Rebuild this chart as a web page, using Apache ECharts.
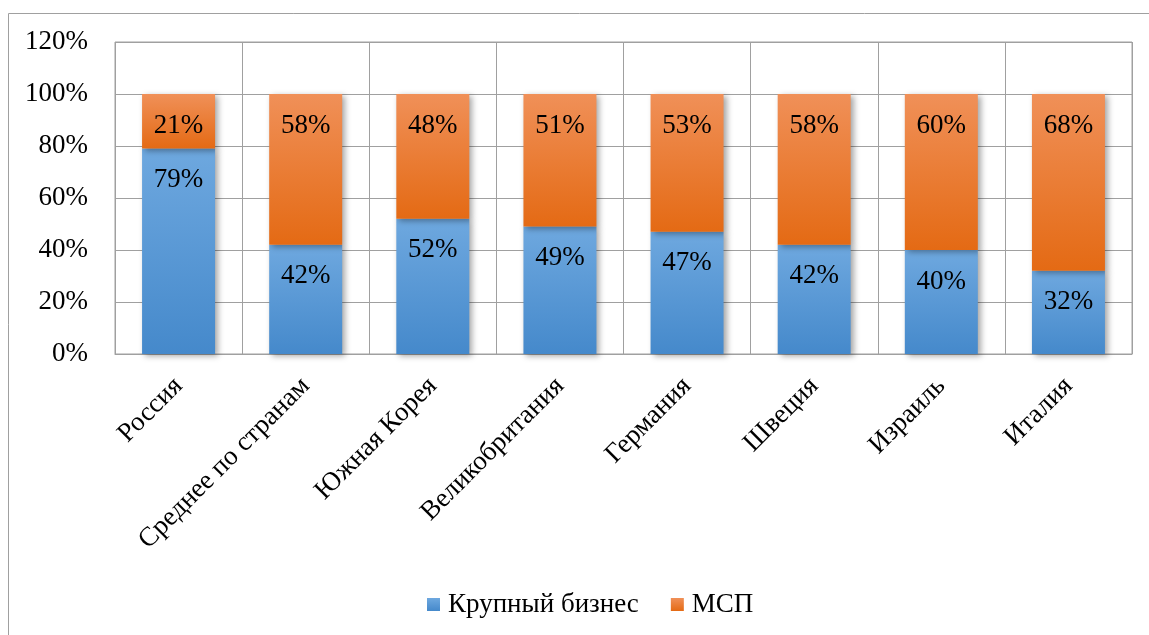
<!DOCTYPE html>
<html><head><meta charset="utf-8">
<script src="https://cdn.jsdelivr.net/npm/echarts@6/dist/echarts.min.js"></script>
<style>html,body{margin:0;padding:0;background:#fff}#c{width:1149px;height:635px}</style>
</head><body><div id="c"></div>
<script>
const categories = ['Россия','Среднее по странам','Южная Корея','Великобритания','Германия','Швеция','Израиль','Италия'];
const largeBusiness = [79,42,52,49,47,42,40,32];
const sme = [21,58,48,51,53,58,60,68];
const seriesNames = ['Крупный бизнес','МСП'];
const yTicks = {min:0, max:120, interval:20};

const font = 'Liberation Serif';
const grad = (a,b)=>new echarts.graphic.LinearGradient(0,0,0,1,[{offset:0,color:a},{offset:1,color:b}]);
const blue = grad('#6EA8DF','#4589CB');
const orange = grad('#F09058','#E46A14');
const labelCfg = {show:true, position:'insideTop', distance:18, formatter:'{c}%', color:'#000', fontFamily:font, fontSize:27};
const itemBase = {shadowBlur:6, shadowOffsetX:3, shadowOffsetY:2, shadowColor:'rgba(0,0,0,0.35)'};

const chart = echarts.init(document.getElementById('c'));
chart.setOption({
  animation:false,
  textStyle:{fontFamily:font},
  graphic:[{type:'rect', shape:{x:8.5,y:13.5,width:1160,height:650}, style:{fill:'none',stroke:'#a0a0a0',lineWidth:1}, silent:true}],
  grid:{left:115, right:17, top:42, bottom:281, show:true, borderColor:'#a0a0a0', borderWidth:1},
  legend:{bottom:12, left:422, itemWidth:13, itemHeight:13, itemGap:32, icon:'rect',
    textStyle:{fontFamily:font, fontSize:27, color:'#000', padding:[0,0,0,3]}, data:seriesNames},
  xAxis:{type:'category', data:categories,
    axisLine:{lineStyle:{color:'#a0a0a0'}}, axisTick:{show:false},
    splitLine:{show:true, lineStyle:{color:'#a0a0a0'}},
    axisLabel:{rotate:45, margin:28, color:'#000', fontFamily:font, fontSize:27, interval:0}},
  yAxis:{type:'value', min:yTicks.min, max:yTicks.max, interval:yTicks.interval,
    axisLine:{show:false}, axisTick:{show:false},
    splitLine:{lineStyle:{color:'#a0a0a0'}},
    axisLabel:{formatter:'{value}%', margin:27, color:'#000', fontFamily:font, fontSize:27}},
  series:[
    {name:seriesNames[0], type:'bar', stack:'s', data:largeBusiness, barWidth:73,
      itemStyle:Object.assign({color:blue}, itemBase), label:labelCfg},
    {name:seriesNames[1], type:'bar', stack:'s', data:sme, barWidth:73,
      itemStyle:Object.assign({color:orange}, itemBase), label:labelCfg}
  ]
});
</script></body></html>
